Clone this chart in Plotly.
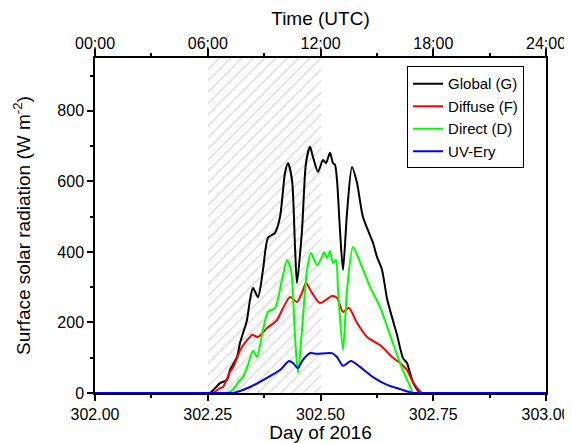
import plotly.graph_objects as go

# ---------------- data ----------------
DAY_TICKS = [302.00, 302.25, 302.50, 302.75, 303.00]
DAY_LABELS = ["302.00", "302.25", "302.50", "302.75", "303.00"]
DAY_MINOR = [302.125, 302.375, 302.625, 302.875]
TIME_LABELS = ["00:00", "06:00", "12:00", "18:00", "24:00"]
Y_TICKS = [0, 200, 400, 600, 800]
Y_MINOR = [100, 300, 500, 700, 900]

SHADE_START = 302.25
SHADE_END = 302.50

GLOBAL_DAY = [302.00, 302.2450, 302.2550, 302.2772, 302.2927, 302.2993, 302.3149, 302.3215,
              302.3326, 302.3370, 302.3437, 302.3503, 302.3614, 302.3725, 302.3836, 302.3991,
              302.4102, 302.4213, 302.4279, 302.4368, 302.4435, 302.4479, 302.4590, 302.4678,
              302.4767, 302.4834, 302.4945, 302.5055, 302.5122, 302.5211, 302.5277, 302.5322,
              302.5366, 302.5432, 302.5499, 302.5588, 302.5698, 302.5809, 302.5942, 302.6164,
              302.6253, 302.6364, 302.6475, 302.6541, 302.6696, 302.6829, 302.6918, 302.6984,
              302.7051, 302.7140, 302.7206, 302.7300, 303.00]
GLOBAL_VAL = [0, 0, 0, 28, 37, 65, 102, 142,
              187, 207, 264, 298, 272, 349, 440, 454,
              499, 624, 652, 604, 414, 312, 462, 652,
              698, 669, 627, 661, 652, 681, 652, 647,
              604, 462, 349, 511, 641, 596, 499, 426,
              386, 349, 268, 235, 165, 99, 85, 57,
              30, 10, 0, 0, 0]

DIFFUSE_DAY = [302.00, 302.2500, 302.2616, 302.2772, 302.2838, 302.2993, 302.3060, 302.3215,
               302.3282, 302.3437, 302.3481, 302.3614, 302.3814, 302.4035, 302.4169, 302.4324,
               302.4479, 302.4590, 302.4678, 302.4812, 302.4989, 302.5255, 302.5366, 302.5499,
               302.5632, 302.5809, 302.6031, 302.6319, 302.6608, 302.6763, 302.6918, 302.7051,
               302.7251, 302.7350, 303.00]
DIFFUSE_VAL = [0, 0, 0, 14, 17, 60, 72, 120,
               135, 159, 165, 159, 184, 207, 241, 272,
               258, 284, 312, 284, 255, 275, 270, 230,
               241, 199, 159, 136, 100, 85, 65, 31,
               0, 0, 0]

DIRECT_DAY = [302.00, 302.2800, 302.2927, 302.3060, 302.3215, 302.3282, 302.3392, 302.3503,
              302.3592, 302.3725, 302.3836, 302.3991, 302.4146, 302.4257, 302.4346, 302.4435,
              302.4501, 302.4590, 302.4701, 302.4789, 302.4922, 302.5033, 302.5078, 302.5144,
              302.5211, 302.5277, 302.5344, 302.5388, 302.5499, 302.5588, 302.5721, 302.5876,
              302.6098, 302.6319, 302.6541, 302.6763, 302.6874, 302.6984, 302.7051, 302.7150,
              303.00]
DIRECT_VAL = [0, 0, 0, 10, 37, 45, 80, 120,
              102, 179, 230, 241, 321, 377, 349, 159,
              57, 179, 349, 397, 363, 386, 400, 383,
              403, 369, 377, 292, 122, 292, 414, 372,
              301, 244, 165, 85, 51, 20, 0, 0,
              0]

UV_DAY = [302.00, 302.2950, 302.3060, 302.3437, 302.3814, 302.4102, 302.4302, 302.4390,
          302.4501, 302.4612, 302.4767, 302.4922, 302.5255, 302.5366, 302.5499, 302.5676,
          302.5876, 302.6164, 302.6475, 302.6763, 302.7051, 302.7150, 303.00]
UV_VAL = [0, 0, 0, 17, 43, 65, 91, 85,
          71, 94, 113, 111, 113, 102, 77, 91,
          74, 45, 23, 11, 0, 0, 0]

Y_MAX = 950
FONT = "Liberation Sans, Arial, sans-serif"

fig = go.Figure()

# hatched shading (06:00 - 12:00)
fig.add_trace(go.Bar(
    x=[(SHADE_START + SHADE_END) / 2], y=[Y_MAX], width=[SHADE_END - SHADE_START],
    marker=dict(color="white", line=dict(width=0),
                pattern=dict(shape="/", fgcolor="#a0a0a0", bgcolor="white",
                             size=8, solidity=0.14)),
    showlegend=False, hoverinfo="skip"))

series = [
    ("Global (G)", GLOBAL_DAY, GLOBAL_VAL, "#000000"),
    ("Diffuse (F)", DIFFUSE_DAY, DIFFUSE_VAL, "#ff0000"),
    ("Direct (D)", DIRECT_DAY, DIRECT_VAL, "#00ff00"),
    ("UV-Ery", UV_DAY, UV_VAL, "#0000ff"),
]
for name, xs, ys, col in series:
    fig.add_trace(go.Scatter(x=xs, y=ys, name=name, mode="lines",
                             line=dict(color=col, width=2, shape="spline", smoothing=0.7)))

# invisible trace to bind the top axis
fig.add_trace(go.Scatter(x=[302.0, 303.0], y=[None, None], xaxis="x2",
                         showlegend=False, hoverinfo="skip", mode="lines"))

# page body has an 8 px margin: figure is 564x435 so that it fills the 572x443 window
fig.update_layout(
    width=564, height=435,
    margin=dict(l=87, r=26, t=50, b=50),
    plot_bgcolor="white", paper_bgcolor="white",
    font=dict(family=FONT, size=16, color="black"),
    bargap=0,
    legend=dict(x=0.692, y=0.975, xanchor="left", yanchor="top",
                bordercolor="black", borderwidth=1, bgcolor="white",
                font=dict(size=15), tracegroupgap=0, itemwidth=30,
                entrywidth=90, entrywidthmode="pixels"),
    xaxis=dict(range=[302, 303], tickmode="array", tickvals=DAY_TICKS, ticktext=DAY_LABELS,
               ticks="outside", ticklen=6, tickwidth=1.5, tickcolor="black",
               showline=True, linewidth=1.5, linecolor="black", mirror=False,
               showgrid=False, zeroline=False, automargin=False,
               minor=dict(tickvals=DAY_MINOR, ticks="outside", ticklen=3, tickwidth=1.5,
                          tickcolor="black", showgrid=False),
               title=dict(text="Day of 2016", standoff=4)),
    xaxis2=dict(range=[302, 303], overlaying="x", side="top", anchor="y",
                tickmode="array", tickvals=DAY_TICKS, ticktext=TIME_LABELS,
                ticks="outside", ticklen=7, tickwidth=1.5, tickcolor="black",
                ticklabelstandoff=-6,
                showline=True, linewidth=1.5, linecolor="black",
                showgrid=False, zeroline=False, automargin=False,
                minor=dict(tickvals=DAY_MINOR, ticks="outside", ticklen=3, tickwidth=1.5,
                           tickcolor="black", showgrid=False),
                title=dict(text="Time (UTC)", standoff=12)),
    yaxis=dict(range=[0, Y_MAX], tickmode="array", tickvals=Y_TICKS,
               ticks="outside", ticklen=6, tickwidth=1.5, tickcolor="black",
               showline=True, linewidth=1.5, linecolor="black", mirror=True,
               showgrid=False, zeroline=False, automargin=False,
               minor=dict(tickvals=Y_MINOR, ticks="outside", ticklen=3, tickwidth=1.5,
                          tickcolor="black", showgrid=False),
               title=dict(text="Surface solar radiation (W m<sup>-2</sup>)", standoff=22)),
)

fig.write_html("out.html")
